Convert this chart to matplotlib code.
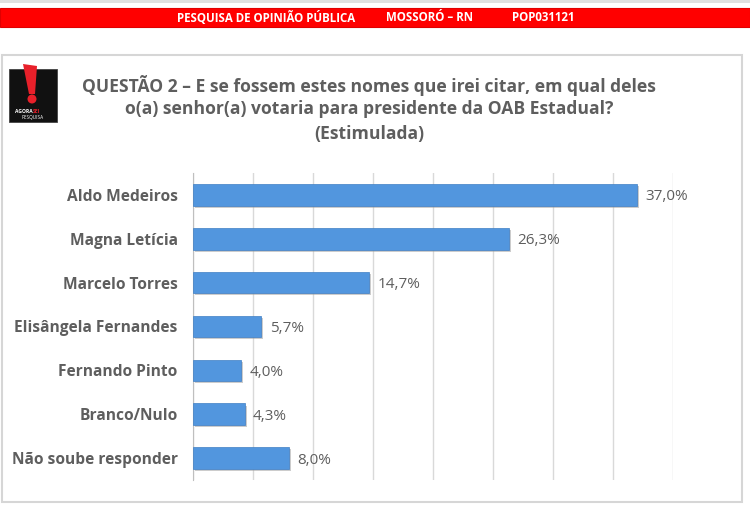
import matplotlib
matplotlib.use("Agg")
import matplotlib.pyplot as plt
import matplotlib.patches as mpatches
import matplotlib.patheffects as pe

categories = ["Aldo Medeiros", "Magna Letícia", "Marcelo Torres", "Elisângela Fernandes",
              "Fernando Pinto", "Branco/Nulo", "Não soube responder"]
values = [37.0, 26.3, 14.7, 5.7, 4.0, 4.3, 8.0]
value_labels = ["37,0%", "26,3%", "14,7%", "5,7%", "4,0%", "4,3%", "8,0%"]
xticks = [0, 5, 10, 15, 20, 25, 30, 35, 40]

title_lines = ["QUESTÃO 2 – E se fossem estes nomes que irei citar, em qual deles",
               "o(a) senhor(a) votaria para presidente da OAB Estadual?",
               "(Estimulada)"]
banner_texts = ["PESQUISA DE OPINIÃO PÚBLICA", "MOSSORÓ – RN", "POP031121"]

FONT = "Open Sans"
GRAY = "#5E5E5E"
W, H = 750, 530

fig = plt.figure(figsize=(7.5, 5.3), dpi=100)
fig.patch.set_facecolor("white")

def fx(px):
    return px / W

def fy(py):
    return 1 - py / H

# top faint line
fig.add_artist(mpatches.Rectangle((0, fy(3)), 1, 3 / H, transform=fig.transFigure,
                                  facecolor="#E0E0E0", edgecolor="none"))
# red banner
fig.add_artist(mpatches.Rectangle((0, fy(27)), 1, 19 / H, transform=fig.transFigure,
                                  facecolor="#FF0000", edgecolor="#E00000", lw=0.8))
for t, x in zip(banner_texts, [266, 430, 543]):
    fig.text(fx(x), fy(17.5), t, color="white", fontsize=8.3, fontweight="bold",
             family=FONT, ha="center", va="center", fontstretch="condensed")

# box
fig.add_artist(mpatches.Rectangle((fx(2), fy(502)), fx(740), (502 - 55) / H,
                                  transform=fig.transFigure, facecolor="none",
                                  edgecolor="#D6D6D6", lw=1.5))

# logo
fig.add_artist(mpatches.Rectangle((fx(9), fy(122)), fx(48), 53 / H,
                                  transform=fig.transFigure, facecolor="#111111",
                                  edgecolor="#444444", lw=0.6))
fig.add_artist(mpatches.Polygon([(fx(23), fy(64)), (fx(37), fy(66)), (fx(35), fy(94)), (fx(29), fy(94))],
                                closed=True, transform=fig.transFigure,
                                facecolor="#E8202A", edgecolor="none"))
fig.add_artist(mpatches.Ellipse((fx(32), fy(99)), fx(9), 9 / H, transform=fig.transFigure,
                                facecolor="#E8202A", edgecolor="none"))
fig.text(fx(33), fy(111), "AGORA", color="white", fontsize=3.6, fontweight="bold",
         family=FONT, ha="right", va="center")
fig.text(fx(33), fy(111), "SEI", color="#E8202A", fontsize=3.6, fontweight="bold",
         family=FONT, ha="left", va="center")
fig.text(fx(33), fy(117.5), "PESQUISA", color="white", fontsize=3.4,
         family=FONT, ha="center", va="center")

# title
for i, line in enumerate(title_lines):
    fig.text(fx(369), fy(85 + 24.5 * i), line, color=GRAY, fontsize=12.6, fontweight="bold",
             family=FONT, ha="center", va="center", fontstretch="condensed")

# chart
ax = fig.add_axes([fx(193), fy(480), fx(480), (480 - 173) / H])
ypos = list(range(len(categories)))
bars = ax.barh(ypos, values, height=0.49, color="#5296DE", edgecolor="#3F7FC4", lw=0.5, zorder=3)
for b in bars:
    b.set_path_effects([pe.SimplePatchShadow(offset=(1.5, -1.5), shadow_rgbFace="#9A9A9A", alpha=0.5),
                        pe.Normal()])
ax.set_xlim(0, 40)
ax.set_ylim(len(categories) - 0.5, -0.5)
ax.set_xticks(xticks)
ax.xaxis.grid(True, color="#D9D9D9", lw=1.0, zorder=0)
ax.tick_params(axis="x", length=0, labelbottom=False)
ax.set_yticks(ypos)
ax.set_yticklabels(categories, family=FONT, fontsize=11.2, fontweight="bold", color=GRAY)
ax.tick_params(axis="y", length=0, pad=11)
for s in ["top", "right", "bottom"]:
    ax.spines[s].set_visible(False)
ax.spines["left"].set_color("#BFBFBF")
for y, v, lab in zip(ypos, values, value_labels):
    ax.text(v + 0.7, y, lab, va="center_baseline", ha="left", family=FONT, fontsize=11, color=GRAY)

fig.savefig("out.png", dpi=100, facecolor="white")
